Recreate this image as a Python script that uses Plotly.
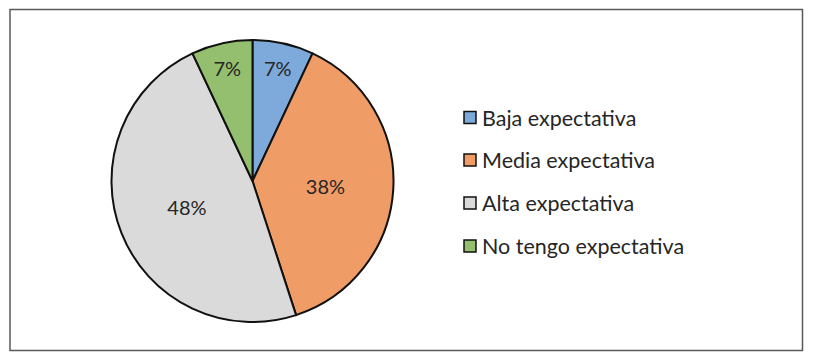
import plotly.graph_objects as go

labels = ["Baja expectativa", "Media expectativa", "Alta expectativa", "No tengo expectativa"]
values = [7, 38, 48, 7]
colors = ["#7DAADA", "#F09C66", "#DADADA", "#93BF6E"]

W, H = 813, 361
cx, cy, r = 252.5, 181, 141

fig = go.Figure()
fig.add_trace(go.Pie(
    labels=labels,
    values=values,
    sort=False,
    direction="clockwise",
    rotation=0,
    marker=dict(colors=colors, line=dict(color="#111111", width=2)),
    textinfo="percent",
    texttemplate="%{value}%",
    textposition="inside",
    insidetextorientation="horizontal",
    textfont=dict(family="Lato", size=20, color="#262626"),
    domain=dict(x=[(cx - r) / W, (cx + r) / W], y=[(H - cy - r) / H, (H - cy + r) / H]),
    showlegend=False,
    hoverinfo="label+percent",
))

shapes = [dict(type="rect", xref="paper", yref="paper",
               x0=10 / W, x1=802.5 / W, y0=1 - 350.5 / H, y1=1 - 9.5 / H,
               line=dict(color="#5a5a5a", width=1.5), fillcolor="rgba(0,0,0,0)", layer="below")]
annotations = []
row_y = [117.5, 160, 203, 246]
sq = 12
for lab, col, yy in zip(labels, colors, row_y):
    shapes.append(dict(type="rect", xref="paper", yref="paper",
                       x0=464 / W, x1=(464 + sq) / W,
                       y0=1 - (yy + sq / 2) / H, y1=1 - (yy - sq / 2) / H,
                       line=dict(color="#111111", width=1.5), fillcolor=col))
    annotations.append(dict(text=lab, xref="paper", yref="paper",
                            x=480 / W, y=1 - yy / H, xanchor="left", yanchor="middle",
                            showarrow=False,
                            font=dict(family="Lato", size=21.5, color="#262626")))

fig.update_layout(
    width=W, height=H,
    margin=dict(l=0, r=0, t=0, b=0),
    paper_bgcolor="white",
    plot_bgcolor="white",
    shapes=shapes,
    annotations=annotations,
)

fig.write_html("out.html", config={"displayModeBar": False},
               post_script="document.body.style.margin='0';")
